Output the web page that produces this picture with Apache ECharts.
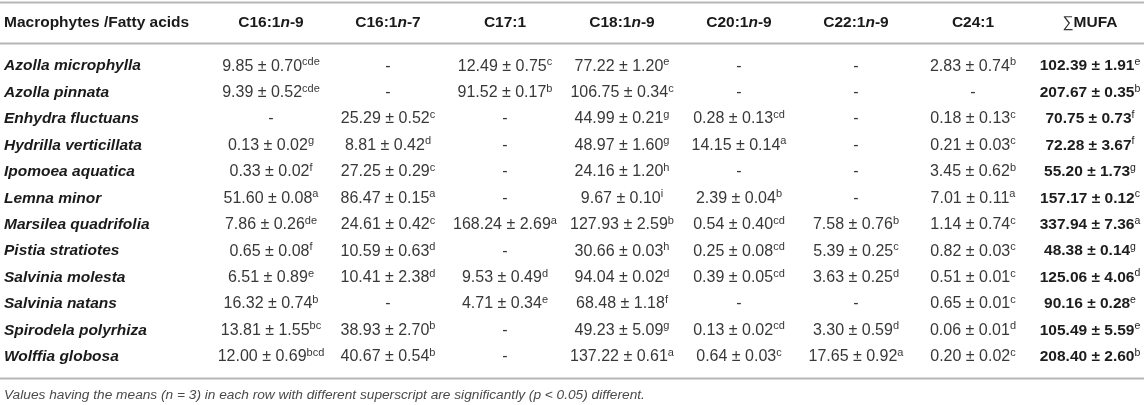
<!DOCTYPE html>
<html>
<head>
<meta charset="utf-8">
<script src="https://cdn.jsdelivr.net/npm/echarts@6/dist/echarts.min.js"></script>
<style>
  html, body { margin: 0; padding: 0; background: #fff; }
  #main { width: 1144px; height: 405px; }
</style>
</head>
<body>
<div id="main"></div>
<script>
// row labels
const species = [
    'Azolla microphylla', 'Azolla pinnata', 'Enhydra fluctuans', 'Hydrilla verticillata',
    'Ipomoea aquatica', 'Lemna minor', 'Marsilea quadrifolia', 'Pistia stratiotes',
    'Salvinia molesta', 'Salvinia natans', 'Spirodela polyrhiza', 'Wolffia globosa'
]
// column headers
const acids = ['C16:1n-9', 'C16:1n-7', 'C17:1', 'C18:1n-9', 'C20:1n-9', 'C22:1n-9', 'C24:1', '∑MUFA']

// each column: [mean, sd, superscript] per species, null = "-"
const c16_1n9 = [[9.85, 0.70, 'cde'], [9.39, 0.52, 'cde'], null, [0.13, 0.02, 'g'], [0.33, 0.02, 'f'], [51.60, 0.08, 'a'],
    [7.86, 0.26, 'de'], [0.65, 0.08, 'f'], [6.51, 0.89, 'e'], [16.32, 0.74, 'b'], [13.81, 1.55, 'bc'], [12.00, 0.69, 'bcd']]
const c16_1n7 = [null, null, [25.29, 0.52, 'c'], [8.81, 0.42, 'd'], [27.25, 0.29, 'c'], [86.47, 0.15, 'a'],
    [24.61, 0.42, 'c'], [10.59, 0.63, 'd'], [10.41, 2.38, 'd'], null, [38.93, 2.70, 'b'], [40.67, 0.54, 'b']]
const c17_1 = [[12.49, 0.75, 'c'], [91.52, 0.17, 'b'], null, null, null, null,
    [168.24, 2.69, 'a'], null, [9.53, 0.49, 'd'], [4.71, 0.34, 'e'], null, null]
const c18_1n9 = [[77.22, 1.20, 'e'], [106.75, 0.34, 'c'], [44.99, 0.21, 'g'], [48.97, 1.60, 'g'], [24.16, 1.20, 'h'], [9.67, 0.10, 'i'],
    [127.93, 2.59, 'b'], [30.66, 0.03, 'h'], [94.04, 0.02, 'd'], [68.48, 1.18, 'f'], [49.23, 5.09, 'g'], [137.22, 0.61, 'a']]
const c20_1n9 = [null, null, [0.28, 0.13, 'cd'], [14.15, 0.14, 'a'], null, [2.39, 0.04, 'b'],
    [0.54, 0.40, 'cd'], [0.25, 0.08, 'cd'], [0.39, 0.05, 'cd'], null, [0.13, 0.02, 'cd'], [0.64, 0.03, 'c']]
const c22_1n9 = [null, null, null, null, null, null,
    [7.58, 0.76, 'b'], [5.39, 0.25, 'c'], [3.63, 0.25, 'd'], null, [3.30, 0.59, 'd'], [17.65, 0.92, 'a']]
const c24_1 = [[2.83, 0.74, 'b'], null, [0.18, 0.13, 'c'], [0.21, 0.03, 'c'], [3.45, 0.62, 'b'], [7.01, 0.11, 'a'],
    [1.14, 0.74, 'c'], [0.82, 0.03, 'c'], [0.51, 0.01, 'c'], [0.65, 0.01, 'c'], [0.06, 0.01, 'd'], [0.20, 0.02, 'c']]
const mufa = [[102.39, 1.91, 'e'], [207.67, 0.35, 'b'], [70.75, 0.73, 'f'], [72.28, 3.67, 'f'], [55.20, 1.73, 'g'], [157.17, 0.12, 'c'],
    [337.94, 7.36, 'a'], [48.38, 0.14, 'g'], [125.06, 4.06, 'd'], [90.16, 0.28, 'e'], [105.49, 5.59, 'e'], [208.40, 2.60, 'b']]

const footnote = 'Values having the means (n = 3) in each row with different superscript are significantly (p < 0.05) different.'

const columns = [c16_1n9, c16_1n7, c17_1, c18_1n9, c20_1n9, c22_1n9, c24_1, mufa]

const FONT = '"Liberation Sans", Arial, Helvetica, sans-serif'
const LINE = '#b6b6b6'

// flatten into [col, row] cells for the custom series
let cells = []
columns.forEach((col, c) => {
    col.forEach((v, r) => {
        cells.push([c, r, v ? v[0] : null, v ? v[1] : null, v ? v[2] : ''])
    })
})

function headerLabel(v) {
    let m = v.match(/^(.*:\d)n(-\d)$/)
    if (m) return '{b|' + m[1] + '}{i|n}{b|' + m[2] + '}'
    if (v.charAt(0) === '∑') return '{sum|∑}{b|' + v.slice(1) + '}'
    return '{b|' + v + '}'
}

const cellRich = {
    v: { fontFamily: FONT, fontSize: 16, lineHeight: 19, fill: '#383838' },
    vb: { fontFamily: FONT, fontSize: 15.5, lineHeight: 19, fontWeight: 'bold', fill: '#1c1c1c' },
    s: { fontFamily: FONT, fontSize: 11, lineHeight: 11, verticalAlign: 'top', fill: '#383838' },
    sb: { fontFamily: FONT, fontSize: 10.5, lineHeight: 11, verticalAlign: 'top', fill: '#1c1c1c' }
}

function renderCell(params, api) {
    let pt = api.coord([api.value(0), api.value(1)])
    let d = cells[params.dataIndex]
    let bold = d[0] === columns.length - 1
    let text
    if (d[2] === null) {
        text = '{v|-}'
    } else {
        text = '{' + (bold ? 'vb' : 'v') + '|' + d[2].toFixed(2) + ' ± ' + d[3].toFixed(2) + '}' +
            '{' + (bold ? 'sb' : 's') + '|' + d[4] + '}'
    }
    return {
        type: 'text',
        x: pt[0],
        y: pt[1],
        style: {
            text: text,
            align: 'center',
            verticalAlign: 'middle',
            rich: cellRich
        }
    }
}

const chart = echarts.init(document.getElementById('main'), null, { renderer: 'canvas' })

chart.setOption({
    animation: false,
    backgroundColor: '#fff',
    grid: { left: 271, right: 54, top: 53, bottom: 35 },
    xAxis: {
        type: 'category',
        data: acids,
        position: 'top',
        boundaryGap: false,
        axisLine: { show: false },
        axisTick: { show: false },
        splitLine: { show: false },
        axisLabel: {
            interval: 0,
            margin: 30,
            verticalAlign: 'middle',
            formatter: headerLabel,
            rich: {
                b: { fontFamily: FONT, fontSize: 15.5, fontWeight: 'bold', color: '#1a1a1a' },
                i: { fontFamily: FONT, fontSize: 15.5, fontWeight: 'bold', fontStyle: 'italic', color: '#1a1a1a' },
                sum: { fontFamily: FONT, fontSize: 15.5, color: '#333' }
            }
        }
    },
    yAxis: {
        type: 'category',
        data: species,
        inverse: true,
        axisLine: { show: false },
        axisTick: { show: false },
        splitLine: { show: false },
        axisLabel: {
            interval: 0,
            align: 'left',
            margin: 267,
            fontFamily: FONT,
            fontSize: 15.5,
            fontWeight: 'bold',
            fontStyle: 'italic',
            color: '#1a1a1a'
        }
    },
    graphic: [
        { type: 'line', shape: { x1: 0, y1: 2.5, x2: 1144, y2: 2.5 }, style: { stroke: LINE, lineWidth: 2 } },
        { type: 'line', shape: { x1: 0, y1: 43.5, x2: 1144, y2: 43.5 }, style: { stroke: LINE, lineWidth: 2 } },
        { type: 'line', shape: { x1: 0, y1: 378.5, x2: 1144, y2: 378.5 }, style: { stroke: LINE, lineWidth: 2 } },
        {
            type: 'text', x: 4, y: 23,
            style: { text: 'Macrophytes /Fatty acids', font: 'bold 15.5px ' + FONT, fill: '#1a1a1a', verticalAlign: 'middle' }
        },
        {
            type: 'text', x: 4, y: 395,
            style: { text: footnote, font: 'italic 13.7px ' + FONT, fill: '#4a4a4a', verticalAlign: 'middle' }
        }
    ],
    series: [{
        type: 'custom',
        renderItem: renderCell,
        encode: { x: 0, y: 1 },
        data: cells.map(d => [d[0], d[1]])
    }]
})
</script>
</body>
</html>
